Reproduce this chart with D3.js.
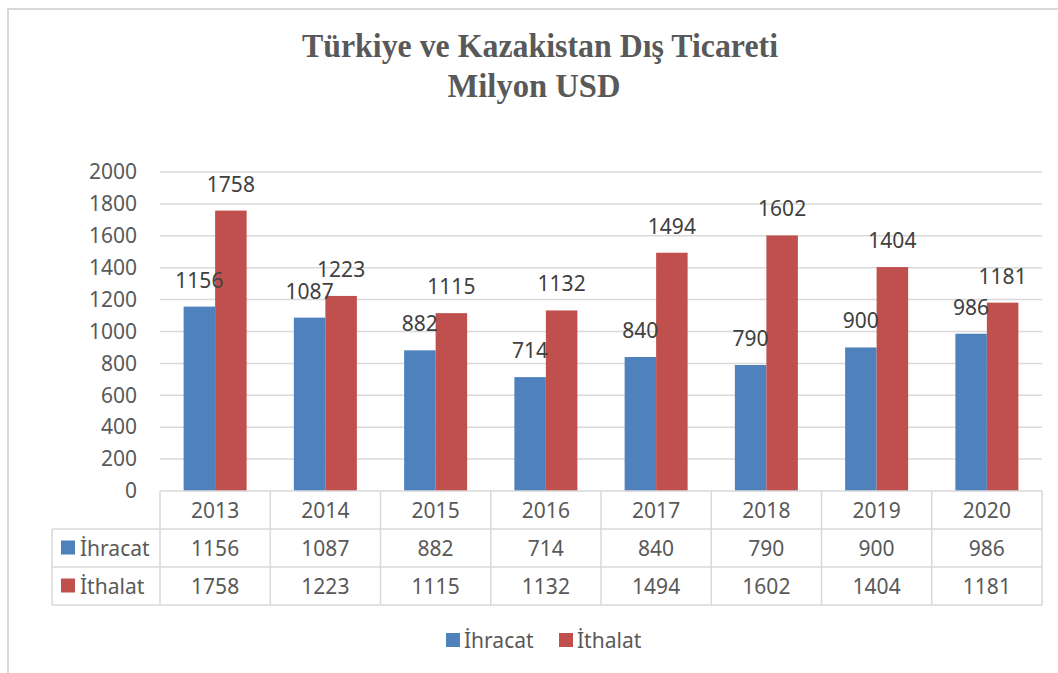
<!DOCTYPE html>
<html>
<head>
<meta charset="utf-8">
<script src="https://cdn.jsdelivr.net/npm/d3@7"></script>
<style>
  body { margin: 0; background: #fff; }
  svg text { font-family: "Noto Sans", "Open Sans", sans-serif; }
</style>
</head>
<body>
<div id="chart"></div>
<script>
// data
const years = ["2013", "2014", "2015", "2016", "2017", "2018", "2019", "2020"];
const seriesNames = ["İhracat", "İthalat"];
const ihracat = [1156, 1087, 882, 714, 840, 790, 900, 986];
const ithalat = [1758, 1223, 1115, 1132, 1494, 1602, 1404, 1181];
const yTicks = [0, 200, 400, 600, 800, 1000, 1200, 1400, 1600, 1800, 2000];
const titleLines = ["Türkiye ve Kazakistan Dış Ticareti", "Milyon USD"];

const colors = { "İhracat": "#4F81BD", "İthalat": "#C0504D" };
const seriesValues = { "İhracat": ihracat, "İthalat": ithalat };

const width = 1058, height = 673;
const plot = { left: 160, right: 1042, top: 172, bottom: 491 };
const gridColor = "#D9D9D9";
const textColor = "#595959";
const fs = "21px";

const svg = d3.select("#chart").append("svg")
  .attr("width", width)
  .attr("height", height);

// chart frame (only left and top edges visible in the reference)
svg.append("path")
  .attr("d", `M8,${height} L8,9 L${width},9`)
  .attr("fill", "none")
  .attr("stroke", gridColor)
  .attr("stroke-width", 2);

// title
const title = svg.append("g")
  .attr("fill", textColor)
  .style("font-weight", "bold")
  .style("font-size", "34px");
title.append("text").attr("x", 540).attr("y", 57).attr("text-anchor", "middle")
  .attr("textLength", 476).attr("lengthAdjust", "spacingAndGlyphs")
  .style("font-family", "'Liberation Serif', serif")
  .text(titleLines[0]);
title.append("text").attr("x", 534).attr("y", 97).attr("text-anchor", "middle")
  .attr("textLength", 173).attr("lengthAdjust", "spacingAndGlyphs")
  .style("font-family", "'Liberation Serif', serif")
  .text(titleLines[1]);

// scales
const x = d3.scaleBand().domain(years).range([plot.left, plot.right]).padding(0);
const barW = 31.5;
const xSub = d3.scaleBand().domain(seriesNames).range([-barW, barW]).padding(0);
const y = d3.scaleLinear().domain([0, 2000]).range([plot.bottom, plot.top]);

// gridlines
svg.append("g").selectAll("line").data(yTicks.filter(d => d > 0)).join("line")
  .attr("x1", plot.left).attr("x2", plot.right)
  .attr("y1", d => y(d)).attr("y2", d => y(d))
  .attr("stroke", gridColor).attr("stroke-width", 1.5);

// y axis labels
const yAxis = svg.append("g")
  .attr("transform", `translate(${plot.left},0)`)
  .call(d3.axisLeft(y).tickValues(yTicks).tickFormat(d3.format("d")).tickSize(0).tickPadding(23));
yAxis.select(".domain").remove();
yAxis.selectAll("text")
  .attr("fill", textColor)
  .style("font-size", fs)
  .style("font-family", "'Noto Sans', sans-serif");

// bars
const groups = svg.append("g").selectAll("g").data(years).join("g")
  .attr("transform", d => `translate(${x(d) + x.bandwidth() / 2},0)`);

groups.selectAll("rect")
  .data((d, i) => seriesNames.map(s => ({ s, v: seriesValues[s][i] })))
  .join("rect")
  .attr("x", d => xSub(d.s))
  .attr("width", xSub.bandwidth())
  .attr("y", d => y(d.v))
  .attr("height", d => y(0) - y(d.v))
  .attr("fill", d => colors[d.s]);

// value labels (drawn after all bars so they sit on top)
svg.append("g").selectAll("text")
  .data(years.flatMap((yr, i) => seriesNames.map(s => ({ yr, s, v: seriesValues[s][i] }))))
  .join("text")
  .attr("x", d => x(d.yr) + x.bandwidth() / 2 + xSub(d.s) + xSub.bandwidth() / 2)
  .attr("y", d => y(d.v) - 19)
  .attr("text-anchor", "middle")
  .attr("fill", "#404040")
  .style("font-size", fs)
  .text(d => d.v);

// data table
const rows = d3.scaleBand().domain(["year", ...seriesNames]).range([plot.bottom, 605]);
const tableLeft = 52;
const table = svg.append("g");

// horizontal lines
table.append("line")
  .attr("x1", plot.left).attr("x2", plot.right)
  .attr("y1", rows("year")).attr("y2", rows("year"));
seriesNames.forEach(s => {
  table.append("line")
    .attr("x1", tableLeft).attr("x2", plot.right)
    .attr("y1", rows(s)).attr("y2", rows(s));
});
table.append("line")
  .attr("x1", tableLeft).attr("x2", plot.right)
  .attr("y1", rows.range()[1]).attr("y2", rows.range()[1]);

// vertical lines
const vx = years.map(d => x(d)).concat([plot.right]);
table.selectAll(".v").data(vx).join("line")
  .attr("x1", d => d).attr("x2", d => d)
  .attr("y1", rows("year")).attr("y2", rows.range()[1]);
table.append("line")
  .attr("x1", tableLeft).attr("x2", tableLeft)
  .attr("y1", rows(seriesNames[0])).attr("y2", rows.range()[1]);
table.selectAll("line").attr("stroke", gridColor).attr("stroke-width", 1.5);

// header years
table.selectAll(".yr").data(years).join("text")
  .attr("x", d => x(d) + x.bandwidth() / 2)
  .attr("y", rows("year") + rows.bandwidth() / 2)
  .attr("dy", "0.36em")
  .attr("text-anchor", "middle")
  .attr("fill", textColor)
  .style("font-size", fs)
  .text(d => d);

// series rows
seriesNames.forEach(s => {
  const cy = rows(s) + rows.bandwidth() / 2;
  table.append("rect")
    .attr("x", 61).attr("y", cy - 7.5).attr("width", 14).attr("height", 14)
    .attr("fill", colors[s]);
  table.append("text")
    .attr("x", 80).attr("y", cy).attr("dy", "0.36em")
    .attr("fill", textColor).style("font-size", fs)
    .text(s);
  table.selectAll(null).data(years).join("text")
    .attr("x", d => x(d) + x.bandwidth() / 2)
    .attr("y", cy).attr("dy", "0.36em")
    .attr("text-anchor", "middle")
    .attr("fill", textColor)
    .style("font-size", fs)
    .text((d, i) => seriesValues[s][i]);
});

// legend
const legendX = [446, 559];
const legend = svg.append("g").selectAll("g").data(seriesNames).join("g")
  .attr("transform", (d, i) => `translate(${legendX[i]},633)`);
legend.append("rect").attr("width", 14).attr("height", 14).attr("fill", d => colors[d]);
legend.append("text").attr("x", 18).attr("y", 7).attr("dy", "0.36em")
  .attr("fill", textColor).style("font-size", fs)
  .text(d => d);
</script>
</body>
</html>
